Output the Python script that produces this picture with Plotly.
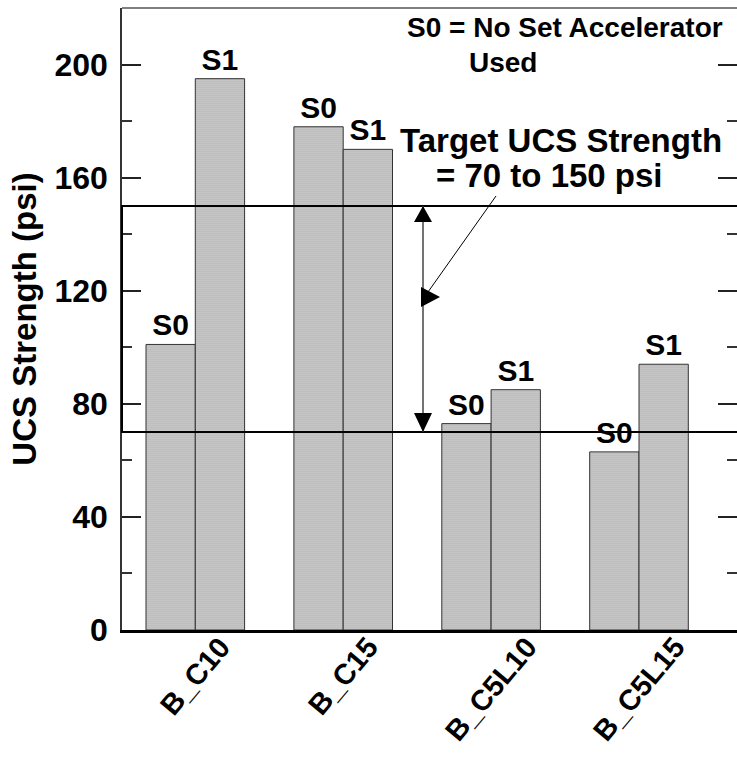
import plotly.graph_objects as go

# ---- data -------------------------------------------------------------
groups = ["B_C10", "B_C15", "B_C5L10", "B_C5L15"]
s0_strength = [101, 178, 73, 63]     # no set accelerator
s1_strength = [195, 170, 85, 94]     # with set accelerator
s0_labels = ["S0"] * len(groups)
s1_labels = ["S1"] * len(groups)
target_low, target_high = 70, 150
y_ticks = [0, 40, 80, 120, 160, 200]

# ---- layout constants ---------------------------------------------------
W, H = 737, 759
ML, MR, MT, MB = 122, 0, 8, 129
Y_RANGE = [0, 220]
X_RANGE = [-0.4956, 3.6626]
FONT = "Liberation Sans, Arial, sans-serif"

plot_w = W - ML - MR
plot_h = H - MT - MB


def px_to_paper_x(px):
    return (px - ML) / plot_w


def px_to_y(px):
    return Y_RANGE[0] + (MT + plot_h - px) / plot_h * (Y_RANGE[1] - Y_RANGE[0])


x_pos = list(range(len(groups)))

bar_marker = dict(
    color="#c8c8c8",
    line=dict(color="#333333", width=1),
    pattern=dict(shape=".", fgcolor="#6e6e6e", bgcolor="#dedede", size=2, solidity=0.6),
)
label_font = dict(family=FONT, size=30, color="black", weight="bold")

fig = go.Figure()
fig.add_trace(go.Bar(x=x_pos, y=s0_strength, text=s0_labels, name="S0",
                     textposition="outside", textfont=label_font,
                     constraintext="none", cliponaxis=False, marker=bar_marker))
fig.add_trace(go.Bar(x=x_pos, y=s1_strength, text=s1_labels, name="S1",
                     textposition="outside", textfont=label_font,
                     constraintext="none", cliponaxis=False, marker=bar_marker))

# ---- target band and arrows -------------------------------------------
arrow_x = px_to_paper_x(423)
shapes = [
    dict(type="rect", xref="paper", yref="y", x0=0, x1=1.02,
         y0=target_low, y1=target_high, line=dict(color="black", width=2)),
    dict(type="line", xref="paper", yref="y", x0=arrow_x, x1=arrow_x,
         y0=target_low, y1=target_high, line=dict(color="#444444", width=1.5)),
    # arrow heads at both ends of the target span
    dict(type="path", xref="paper", yref="y", xsizemode="pixel", ysizemode="pixel",
         xanchor=arrow_x, yanchor=target_high,
         path="M-9,-16 L9,-16 L0,0 Z", fillcolor="black", line=dict(width=0)),
    dict(type="path", xref="paper", yref="y", xsizemode="pixel", ysizemode="pixel",
         xanchor=arrow_x, yanchor=target_low,
         path="M-9,19 L9,19 L0,0 Z", fillcolor="black", line=dict(width=0)),
    # pointer from the target note
    dict(type="line", xref="paper", yref="y",
         x0=px_to_paper_x(496), y0=px_to_y(196),
         x1=px_to_paper_x(428), y1=px_to_y(292),
         line=dict(color="black", width=1)),
    dict(type="path", xref="paper", yref="y", xsizemode="pixel", ysizemode="pixel",
         xanchor=arrow_x, yanchor=px_to_y(297),
         path="M-2,10 L17,0 L-2,-10 Z", fillcolor="black", line=dict(width=0)),
    # top frame line
    dict(type="line", xref="paper", yref="paper", x0=0, x1=1, y0=1, y1=1,
         line=dict(color="#555555", width=1.5)),
]

note_font = dict(family=FONT, size=28, color="black", weight="bold")
target_font = dict(family=FONT, size=33, color="black", weight="bold")
annotations = [
    dict(text="S0 = No Set Accelerator", xref="paper", yref="y",
         x=px_to_paper_x(405), y=px_to_y(27), xanchor="left", yanchor="middle",
         showarrow=False, font=note_font),
    dict(text="Used", xref="paper", yref="y",
         x=px_to_paper_x(467), y=px_to_y(62), xanchor="left", yanchor="middle",
         showarrow=False, font=note_font),
    dict(text="Target UCS Strength", xref="paper", yref="y",
         x=px_to_paper_x(561), y=px_to_y(140), xanchor="center", yanchor="middle",
         showarrow=False, font=target_font),
    dict(text="= 70 to 150 psi", xref="paper", yref="y",
         x=px_to_paper_x(549), y=px_to_y(175), xanchor="center", yanchor="middle",
         showarrow=False, font=target_font),
]

# slanted category labels, centred under each group
cat_font = dict(family=FONT, size=29, color="black", weight="bold")
for xi, name in zip(x_pos, groups):
    annotations.append(dict(
        text=name, xref="x", yref="paper", x=xi, y=0, yshift=0,
        xanchor="center", yanchor="top", textangle=-50,
        showarrow=False, font=cat_font, borderpad=0,
    ))

fig.update_layout(
    width=W, height=H,
    margin=dict(l=ML, r=MR, t=MT, b=MB, autoexpand=False),
    paper_bgcolor="white", plot_bgcolor="white",
    barmode="group", bargap=0.3333, bargroupgap=0,
    showlegend=False,
    shapes=shapes, annotations=annotations,
    font=dict(family=FONT, color="black"),
)

fig.update_xaxes(
    range=X_RANGE, tickvals=x_pos, showticklabels=False,
    showline=True, linecolor="black", linewidth=2.5, ticks="",
    showgrid=False, zeroline=False, automargin=False,
)

fig.update_yaxes(
    range=Y_RANGE, tickvals=y_ticks,
    tickfont=dict(family=FONT, size=32, color="black", weight="bold"),
    ticks="inside", ticklen=19, tickwidth=1.5, tickcolor="#222222",
    minor=dict(dtick=20, tick0=0, ticks="inside", ticklen=10, tickwidth=1.5,
               tickcolor="#333333", showgrid=False),
    mirror="ticks", ticklabelstandoff=6,
    showline=True, linecolor="#333333", linewidth=1.5,
    showgrid=False, zeroline=False, automargin=False,
    title=dict(text="UCS Strength (psi)", standoff=8,
               font=dict(family=FONT, size=33, color="black", weight="bold")),
)

fig.write_html("out.html")
